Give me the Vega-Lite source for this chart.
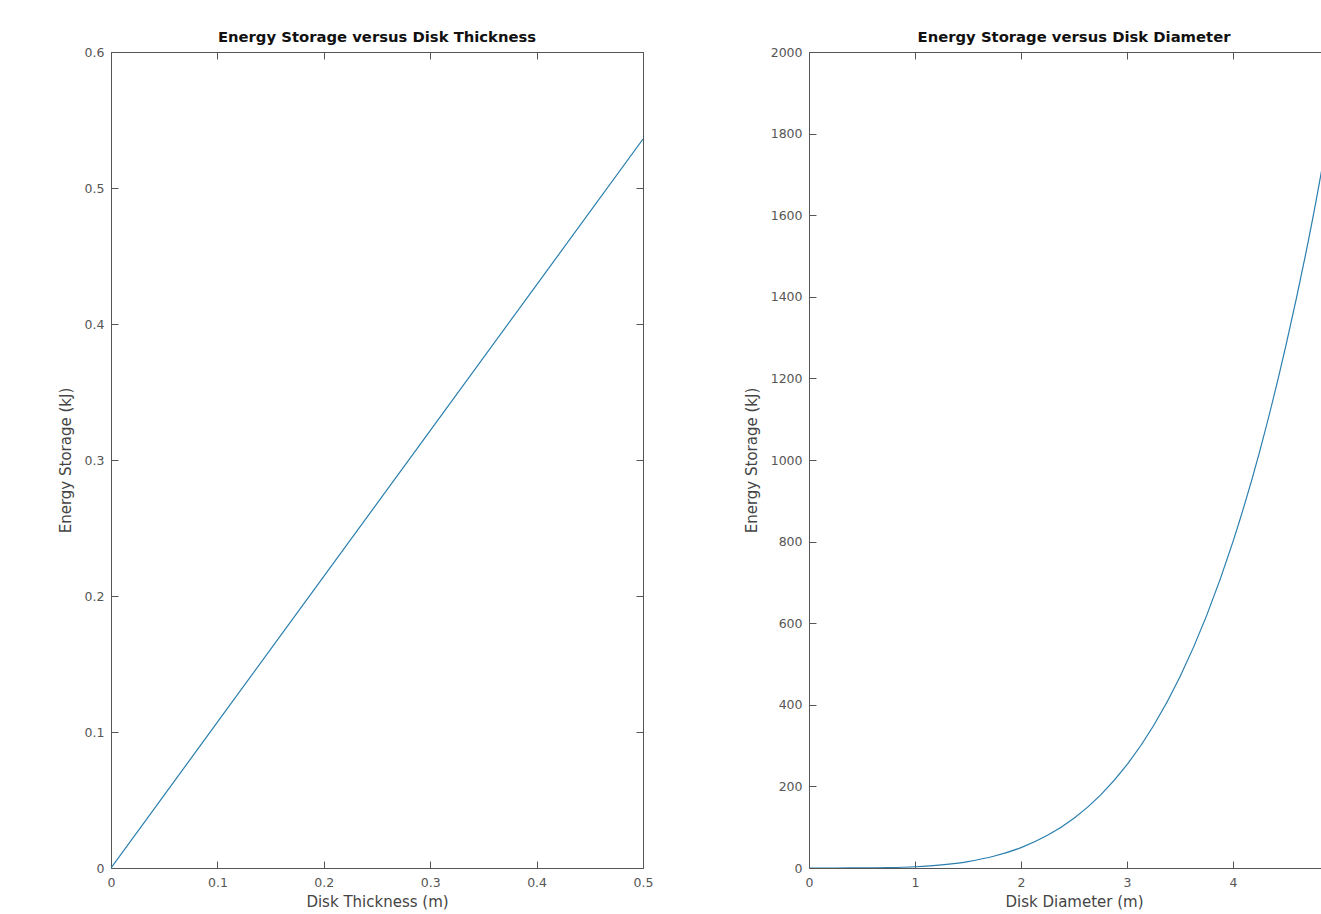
{
  "$schema": "https://vega.github.io/schema/vega-lite/v6.json",
  "background": "white",
  "padding": {"left": 58, "top": 30, "right": 0, "bottom": 0},
  "spacing": 91,
  "datasets": {
    "thick": [
      {"t": 0, "e": 0}, {"t": 0.1, "e": 0.1072}, {"t": 0.2, "e": 0.2144},
      {"t": 0.3, "e": 0.3216}, {"t": 0.4, "e": 0.4288}, {"t": 0.5, "e": 0.536}
    ],
    "diam": [
      {"d": 0, "e": 0}, {"d": 0.25, "e": 0.012}, {"d": 0.5, "e": 0.195}, {"d": 0.75, "e": 0.99},
      {"d": 1, "e": 3.125}, {"d": 1.25, "e": 7.63}, {"d": 1.5, "e": 15.82}, {"d": 1.75, "e": 29.31},
      {"d": 2, "e": 50}, {"d": 2.25, "e": 80.1}, {"d": 2.5, "e": 122.07}, {"d": 2.75, "e": 178.7},
      {"d": 3, "e": 253.1}, {"d": 3.25, "e": 348.7}, {"d": 3.5, "e": 468.9}, {"d": 3.75, "e": 618.0},
      {"d": 4, "e": 800}, {"d": 4.25, "e": 1019.5}, {"d": 4.5, "e": 1281.4}, {"d": 4.75, "e": 1589.1},
      {"d": 5, "e": 1953.1}
    ]
  },
  "config": {
    "view": {"stroke": null},
    "font": "DejaVu Sans",
    "axis": {
      "grid": false,
      "domainColor": "#555555",
      "domainWidth": 1,
      "tickColor": "#555555",
      "tickSize": -7,
      "labelFont": "DejaVu Sans",
      "labelFontSize": 12.5,
      "labelColor": "#555555",
      "titleFont": "DejaVu Sans",
      "titleFontSize": 15,
      "titleFontWeight": "normal",
      "titleColor": "#444444"
    },
    "title": {"font": "DejaVu Sans", "fontSize": 14.8, "fontWeight": "bold", "color": "#111111", "offset": 1}
  },
  "hconcat": [
    {
      "title": "Energy Storage versus Disk Thickness",
      "width": 532,
      "height": 816,
      "data": {"name": "thick"},
      "layer": [
        {
          "mark": {"type": "line", "color": "#2a7fae", "strokeWidth": 1.2, "clip": true},
          "encoding": {
            "x": {"field": "t", "type": "quantitative", "scale": {"domain": [0, 0.5], "nice": false},
                  "axis": {"orient": "bottom", "title": "Disk Thickness (m)", "format": "~g", "values": [0, 0.1, 0.2, 0.3, 0.4, 0.5], "labelPadding": 15, "titlePadding": 6, "labelFlush": false}},
            "y": {"field": "e", "type": "quantitative", "scale": {"domain": [0, 0.6], "nice": false},
                  "axis": {"orient": "left", "title": "Energy Storage (kJ)", "format": "~g", "values": [0, 0.1, 0.2, 0.3, 0.4, 0.5, 0.6], "labelPadding": 14, "titlePadding": 11, "labelFlush": false}}
          }
        },
        {
          "mark": {"type": "line", "opacity": 0},
          "encoding": {
            "x": {"field": "t", "type": "quantitative", "axis": {"orient": "top", "title": null, "labels": false, "values": [0, 0.1, 0.2, 0.3, 0.4, 0.5]}},
            "y": {"field": "e", "type": "quantitative", "axis": {"orient": "right", "title": null, "labels": false, "values": [0, 0.1, 0.2, 0.3, 0.4, 0.5, 0.6]}}
          }
        }
      ],
      "resolve": {"axis": {"x": "independent", "y": "independent"}}
    },
    {
      "title": "Energy Storage versus Disk Diameter",
      "width": 530,
      "height": 816,
      "data": {"name": "diam"},
      "layer": [
        {
          "mark": {"type": "line", "color": "#2a7fae", "strokeWidth": 1.2, "interpolate": "monotone", "clip": true},
          "encoding": {
            "x": {"field": "d", "type": "quantitative", "scale": {"domain": [0, 5], "nice": false},
                  "axis": {"orient": "bottom", "title": "Disk Diameter (m)", "format": "d", "values": [0, 1, 2, 3, 4], "labelPadding": 15, "titlePadding": 6, "labelFlush": false}},
            "y": {"field": "e", "type": "quantitative", "scale": {"domain": [0, 2000], "nice": false},
                  "axis": {"orient": "left", "title": "Energy Storage (kJ)", "format": "d", "values": [0, 200, 400, 600, 800, 1000, 1200, 1400, 1600, 1800, 2000], "labelPadding": 14, "titlePadding": 11, "labelFlush": false}}
          }
        },
        {
          "mark": {"type": "line", "opacity": 0},
          "encoding": {
            "x": {"field": "d", "type": "quantitative", "axis": {"orient": "top", "title": null, "labels": false, "values": [0, 1, 2, 3, 4, 5]}},
            "y": {"field": "e", "type": "quantitative", "axis": {"orient": "right", "title": null, "labels": false, "values": [0, 200, 400, 600, 800, 1000, 1200, 1400, 1600, 1800, 2000]}}
          }
        }
      ],
      "resolve": {"axis": {"x": "independent", "y": "independent"}}
    }
  ]
}
